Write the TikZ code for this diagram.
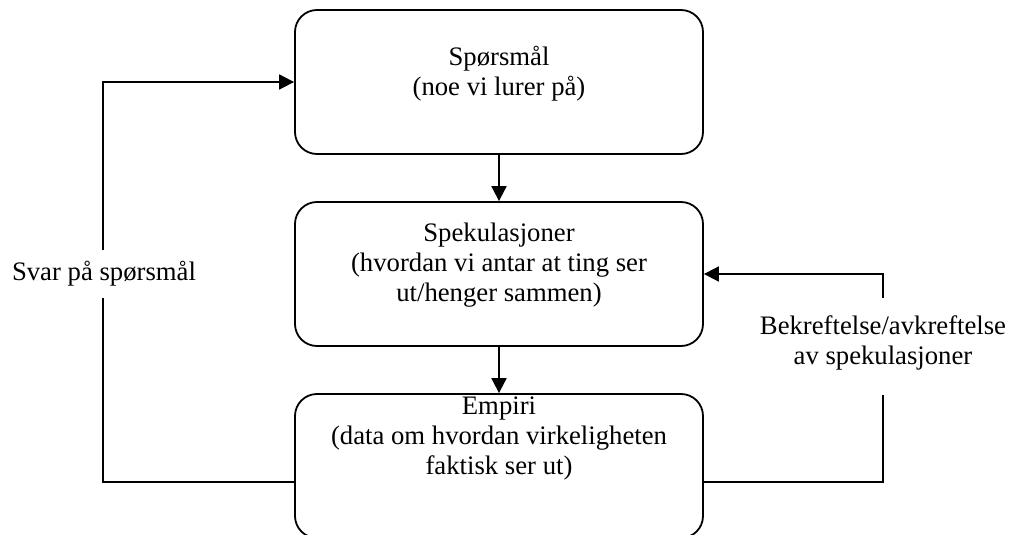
\documentclass[tikz,border=0pt]{standalone}
\usepackage{fontspec}
\setmainfont{Liberation Serif}
\usetikzlibrary{arrows.meta}
\begin{document}
\begin{tikzpicture}[x=1pt,y=-1pt,
  box/.style={draw, line width=1.8pt, rounded corners=22pt, minimum width=408pt,
              minimum height=144pt, inner sep=0pt},
  txt/.style={align=center, inner sep=0pt, font=\fontsize{26.7}{30}\selectfont},
  link/.style={line width=1.8pt},
  arr/.style={link, -{Triangle[length=15pt,width=15pt]}}]
  \useasboundingbox (0,0) rectangle (1010,535);
  \begin{scope}
    \clip (0,0) rectangle (1010,535);
    % the three stages
    \node[box] (q) at (499,82) {};
    \node[box] (s) at (499,274) {};
    \node[box] (e) at (499,466) {};
    \node[txt] (qt) at (499,74) {Spørsmål\\(noe vi lurer på)};
    \node[txt] (st) at (499,265) {Spekulasjoner\\(hvordan vi antar at ting ser\\ut/henger sammen)};
    \node[txt] (et) at (499,438) {Empiri\\(data om hvordan virkeligheten\\faktisk ser ut)};
  \end{scope}
  % feedback labels
  \node[txt] (lbl) at (104,274) {Svar på spørsmål};
  \node[txt] (rbl) at (883,343) {Bekreftelse/avkreftelse\\av spekulasjoner};
  % ends of the loop lines around the labels
  \coordinate (l1) at (103,298);
  \coordinate (l2) at (103,250);
  \coordinate (r1) at (883,298);
  \coordinate (r2) at (883,395);
  % main flow
  \draw[arr] (q.south) -- (s.north);
  \draw[arr] (s.south) -- (e.north);
  % left loop: answers back to the question
  \draw[link] (e.west) ++(0,16) -| (l1);
  \draw[arr] (l2) |- (q.west);
  % right loop: confirmation back to speculations
  \draw[link] (e.east) ++(0,16) -| (r2);
  \draw[arr] (r1) |- (s.east);
\end{tikzpicture}
\end{document}
